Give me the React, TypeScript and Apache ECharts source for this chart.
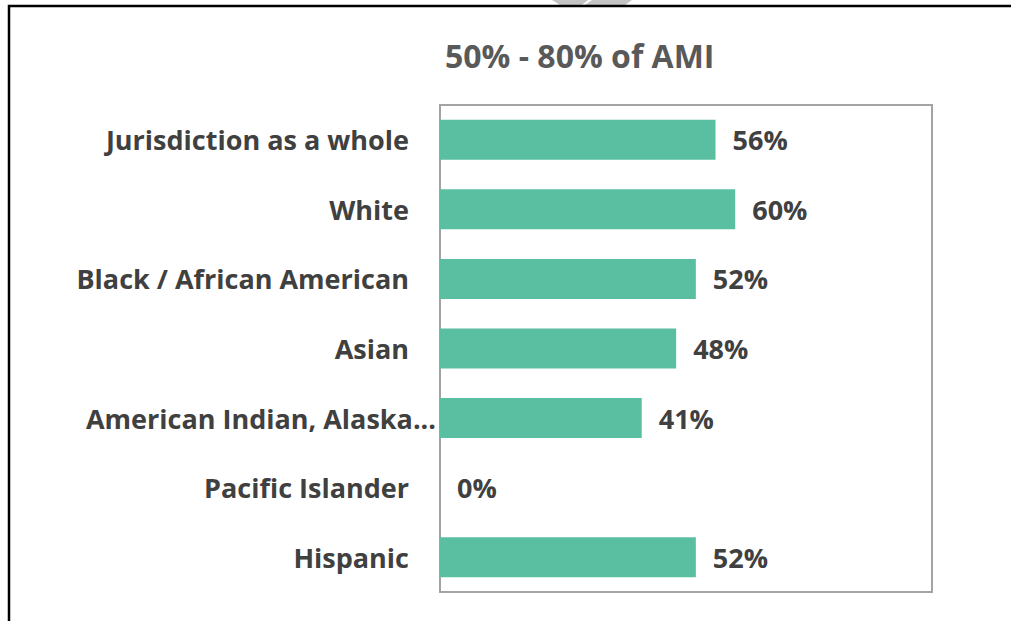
import React, { useEffect, useRef } from "react";
import * as echarts from "echarts";

const categories = [
  "Jurisdiction as a whole",
  "White",
  "Black / African American",
  "Asian",
  "American Indian, Alaska...",
  "Pacific Islander",
  "Hispanic",
];
const values = [56, 60, 52, 48, 41, 0, 52];
const titleText = "50% - 80% of AMI";
// the truncated label sits further right in the reference (ellipsis reaches the plot edge)
const truncatedIndex = 4;

export default function App() {
  const ref = useRef<HTMLDivElement>(null);
  useEffect(() => {
    if (!ref.current) return;
    const chart = echarts.init(ref.current, null, { renderer: "svg" });
    const font = "'Open Sans', 'Noto Sans', sans-serif";
    const catData = categories.map((c, i) =>
      i === truncatedIndex ? { value: c, textStyle: { padding: [0, -27, 0, 0] } } : c
    );
    chart.setOption({
      animation: false,
      backgroundColor: "#ffffff",
      title: {
        text: titleText,
        left: 440,
        top: 34,
        textStyle: { fontFamily: font, fontSize: 32, fontWeight: "bold", color: "#595959" },
      },
      grid: { left: 440, top: 105, right: 79, bottom: 29, show: true, borderColor: "#a3a3a3", borderWidth: 2, containLabel: false },
      xAxis: { type: "value", min: 0, max: 100, show: false, splitLine: { show: false } },
      yAxis: {
        type: "category",
        data: catData,
        inverse: true,
        axisLine: { show: false },
        axisTick: { show: false },
        axisLabel: { margin: 31, fontFamily: font, fontSize: 27, fontWeight: "bold", color: "#404040" },
      },
      series: [
        {
          type: "bar",
          data: values,
          barWidth: 40,
          itemStyle: { color: "#5ABFA0" },
          label: {
            show: true,
            position: "right",
            distance: 17,
            formatter: "{c}%",
            fontFamily: font,
            fontSize: 27,
            fontWeight: "bold",
            color: "#404040",
          },
        },
      ],
      graphic: [
        { type: "polygon", shape: { points: [[552, 0], [588, 0], [582, 5], [560, 5]] }, style: { fill: "#c4c4c4" } },
        { type: "polygon", shape: { points: [[592, 0], [632, 0], [625, 5], [585, 5]] }, style: { fill: "#c4c4c4" } },
        { type: "rect", shape: { x: 9, y: 6, width: 1020, height: 640 }, style: { fill: "none", stroke: "#000000", lineWidth: 2.5 } },
      ],
    });
    return () => chart.dispose();
  }, []);
  return <div ref={ref} style={{ position: "fixed", left: 0, top: 0, width: 1011, height: 621 }} />;
}
